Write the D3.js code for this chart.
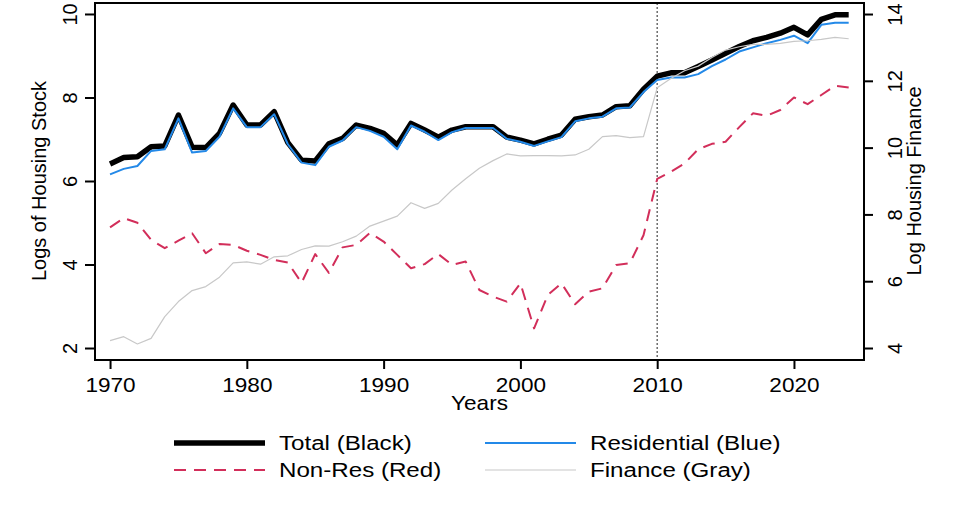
<!DOCTYPE html>
<html>
<head>
<meta charset="utf-8">
<script src="https://cdn.jsdelivr.net/npm/d3@7"></script>
<style>
  body { margin: 0; background: #fff; }
  text { font-family: "Liberation Sans", Arial, sans-serif; fill: #000; }
</style>
</head>
<body>
<svg id="drawing_region"></svg>
<script>
// years 1970..2024
const years = d3.range(1970, 2025);

const total = [6.41, 6.56, 6.58, 6.82, 6.84, 7.58, 6.81, 6.80, 7.14, 7.82,
    7.34, 7.34, 7.66, 6.92, 6.50, 6.48, 6.89, 7.02, 7.34, 7.26,
    7.14, 6.86, 7.38, 7.22, 7.05, 7.22, 7.30, 7.30, 7.30, 7.05,
    6.98, 6.89, 7.00, 7.10, 7.48, 7.54, 7.58, 7.78, 7.80, 8.20,
    8.51, 8.59, 8.59, 8.74, 8.90, 9.06, 9.22, 9.36, 9.44, 9.54,
    9.68, 9.50, 9.87, 9.98, 9.98];

const residential = [6.16, 6.29, 6.36, 6.72, 6.76, 7.50, 6.68, 6.72, 7.06, 7.74,
    7.29, 7.29, 7.60, 6.88, 6.44, 6.38, 6.82, 6.97, 7.29, 7.20,
    7.06, 6.76, 7.33, 7.18, 6.98, 7.17, 7.27, 7.27, 7.27, 7.01,
    6.94, 6.84, 6.95, 7.05, 7.43, 7.50, 7.54, 7.74, 7.76, 8.13,
    8.42, 8.48, 8.48, 8.56, 8.75, 8.91, 9.10, 9.20, 9.30, 9.38,
    9.48, 9.30, 9.74, 9.79, 9.79];

const nonres = [4.89, 5.11, 5.00, 4.59, 4.39, 4.57, 4.75, 4.27, 4.49, 4.47,
    4.33, 4.23, 4.11, 4.05, 3.56, 4.25, 3.80, 4.41, 4.47, 4.76,
    4.55, 4.23, 3.91, 4.01, 4.25, 3.99, 4.07, 3.39, 3.23, 3.11,
    3.55, 2.47, 3.27, 3.55, 3.05, 3.35, 3.43, 3.99, 4.03, 4.70,
    6.05, 6.22, 6.42, 6.76, 6.89, 6.94, 7.29, 7.62, 7.56, 7.70,
    8.00, 7.84, 8.06, 8.28, 8.24];

// right axis
const finance = [4.22, 4.34, 4.12, 4.29, 4.94, 5.39, 5.72, 5.84, 6.12, 6.55,
    6.58, 6.51, 6.73, 6.76, 6.95, 7.06, 7.05, 7.18, 7.35, 7.65,
    7.80, 7.95, 8.35, 8.18, 8.33, 8.73, 9.07, 9.38, 9.61, 9.81,
    9.75, 9.76, 9.76, 9.75, 9.78, 9.95, 10.33, 10.36, 10.30, 10.33,
    11.79, 12.07, 12.30, 12.44, 12.70, 12.92, 13.02, 13.09, 13.09, 13.12,
    13.18, 13.20, 13.24, 13.30, 13.26];

const xTicks = [1970, 1980, 1990, 2000, 2010, 2020];
const leftTicks = [2, 4, 6, 8, 10];
const rightTicks = [4, 6, 8, 10, 12, 14];
const legendLabels = ["Total (Black)", "Residential (Blue)", "Non-Res (Red)", "Finance (Gray)"];

const width = 960, height = 516;
const plot = {left: 95, right: 864, top: 3, bottom: 360};
const sx = 1.13; // horizontal stretch of the text in the picture

const svg = d3.select('#drawing_region')
    .attr('width', width)
    .attr('height', height);

const xscale = d3.scaleLinear()
    .domain([1968.9, 2025.12])
    .range([plot.left, plot.right]);

const yleft = d3.scaleLinear()
    .domain([1.713, 10.263])
    .range([plot.bottom, plot.top]);

const yright = d3.scaleLinear()
    .domain([3.641, 14.33])
    .range([plot.bottom, plot.top]);

// axes
const xaxis_group = svg.append('g')
    .attr('transform', `translate(0, ${plot.bottom})`)
    .call(d3.axisBottom(xscale).tickValues(xTicks).tickSize(9).tickSizeOuter(0).tickFormat(d3.format('d')));
xaxis_group.select('.domain').remove();
xaxis_group.selectAll('line').attr('stroke-width', 2);
xaxis_group.selectAll('text')
    .attr('y', 32).attr('dy', 0)
    .attr('transform', `scale(${sx},1)`)
    .style('font-size', '20px');

const yl_group = svg.append('g')
    .attr('transform', `translate(${plot.left}, 0)`)
    .call(d3.axisLeft(yleft).tickValues(leftTicks).tickSize(10).tickSizeOuter(0));
yl_group.select('.domain').remove();
yl_group.selectAll('line').attr('stroke-width', 2);
yl_group.selectAll('text')
    .attr('x', 0).attr('dy', 0)
    .attr('text-anchor', 'middle')
    .attr('transform', 'translate(-18,0) rotate(-90)')
    .style('font-size', '20px');

const yr_group = svg.append('g')
    .attr('transform', `translate(${plot.right}, 0)`)
    .call(d3.axisRight(yright).tickValues(rightTicks).tickSize(9).tickSizeOuter(0));
yr_group.select('.domain').remove();
yr_group.selectAll('line').attr('stroke-width', 2);
yr_group.selectAll('text')
    .attr('x', 0).attr('dy', 0)
    .attr('text-anchor', 'middle')
    .attr('transform', 'translate(38,0) rotate(-90)')
    .style('font-size', '20px');

// vertical dotted line at 2010
svg.append('line')
    .attr('x1', xscale(2010)).attr('x2', xscale(2010))
    .attr('y1', plot.top).attr('y2', plot.bottom)
    .attr('stroke', '#555')
    .attr('stroke-width', 1.3)
    .attr('stroke-dasharray', '2,2');

// lines
const lineL = d3.line().x((d, i) => xscale(years[i])).y(d => yleft(d));
const lineR = d3.line().x((d, i) => xscale(years[i])).y(d => yright(d));

const series = [
    {data: total, line: lineL, color: '#000', w: 5.5, dash: null},
    {data: residential, line: lineL, color: '#2389E8', w: 2, dash: null},
    {data: nonres, line: lineL, color: '#D22E5A', w: 2, dash: '12,8'},
    {data: finance, line: lineR, color: '#C8C8C8', w: 1.2, dash: null}
];

series.forEach(s => {
    svg.append('path')
        .attr('d', s.line(s.data))
        .attr('fill', 'none')
        .attr('stroke', s.color)
        .attr('stroke-width', s.w)
        .attr('stroke-linejoin', 'round')
        .attr('stroke-dasharray', s.dash);
});

// frame
svg.append('rect')
    .attr('x', plot.left).attr('y', plot.top)
    .attr('width', plot.right - plot.left)
    .attr('height', plot.bottom - plot.top)
    .attr('fill', 'none')
    .attr('stroke', '#000')
    .attr('stroke-width', 2);

// axis titles
svg.append('text')
    .attr('transform', `translate(${(plot.left + plot.right) / 2}, 410) scale(${sx},1)`)
    .attr('text-anchor', 'middle')
    .style('font-size', '20px')
    .text('Years');

svg.append('text')
    .attr('transform', 'translate(46, 181) rotate(-90)')
    .attr('text-anchor', 'middle')
    .style('font-size', '20px')
    .text('Logs of Housing Stock');

svg.append('text')
    .attr('transform', 'translate(921, 181) rotate(-90)')
    .attr('text-anchor', 'middle')
    .style('font-size', '20px')
    .text('Log Housing Finance');

// legend
const legendPos = [
    {x: 174, y: 443}, {x: 485, y: 443},
    {x: 174, y: 470}, {x: 485, y: 470}
];
const legendOrder = [0, 1, 2, 3];
legendOrder.forEach((k, i) => {
    const s = series[k];
    const p = legendPos[i];
    svg.append('line')
        .attr('x1', p.x).attr('x2', p.x + 91)
        .attr('y1', p.y).attr('y2', p.y)
        .attr('stroke', s.color)
        .attr('stroke-width', s.w)
        .attr('stroke-dasharray', s.dash);
    svg.append('text')
        .attr('transform', `translate(${p.x + 105}, ${p.y + 7}) scale(1.15,1)`)
        .style('font-size', '21px')
        .text(legendLabels[k]);
});
</script>
</body>
</html>
